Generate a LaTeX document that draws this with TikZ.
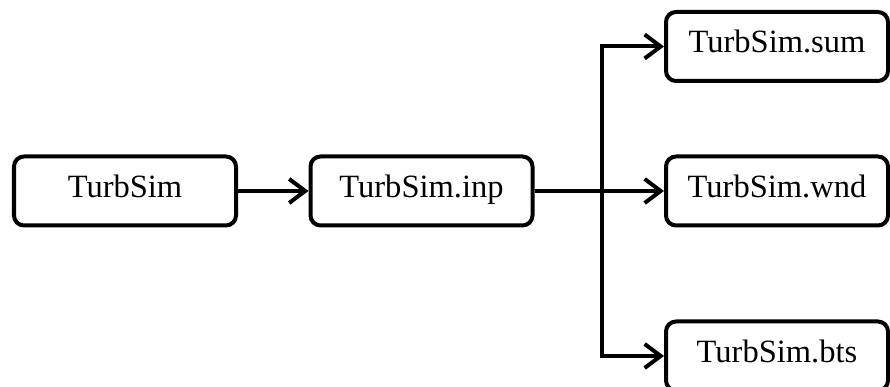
\documentclass[tikz,border=0pt]{standalone}
\usepackage{fontspec}
\setmainfont{Liberation Serif}
\usetikzlibrary{arrows.meta}
\begin{document}
\begin{tikzpicture}[
		filebox/.style={draw, line width=0.08cm, rounded corners=0.2cm,
			minimum width=4.44cm, minimum height=1.38cm,
			text height=1.5ex, text depth=0pt,
			font=\fontsize{18.5}{20}\selectfont},
		flow/.style={line width=0.08cm,
			-{Straight Barb[length=0.32cm,width=0.48cm,line width=0.08cm]}}
	]
		\useasboundingbox (0,0) rectangle (17.8,7.74);
		
		% program and input file
		\node[filebox] (sim) at (2.50,3.92) {TurbSim};
		\node[filebox] (inp) at (8.43,3.92) {TurbSim.inp};
		
		% output files
		\node[filebox] (sum) at (15.54,6.81) {TurbSim.sum};
		\node[filebox] (wnd) at (15.54,3.92) {TurbSim.wnd};
		\node[filebox] (bts) at (15.54,0.62) {TurbSim.bts};
		
		% branch point
		\coordinate (J) at (12.04,3.92);
		
		\draw[flow] (sim) -- (inp);
		\draw[flow] (inp) -- (wnd);
		\draw[flow] (J) |- (sum);
		\draw[flow] (J) |- (bts);
\end{tikzpicture}
\end{document}
